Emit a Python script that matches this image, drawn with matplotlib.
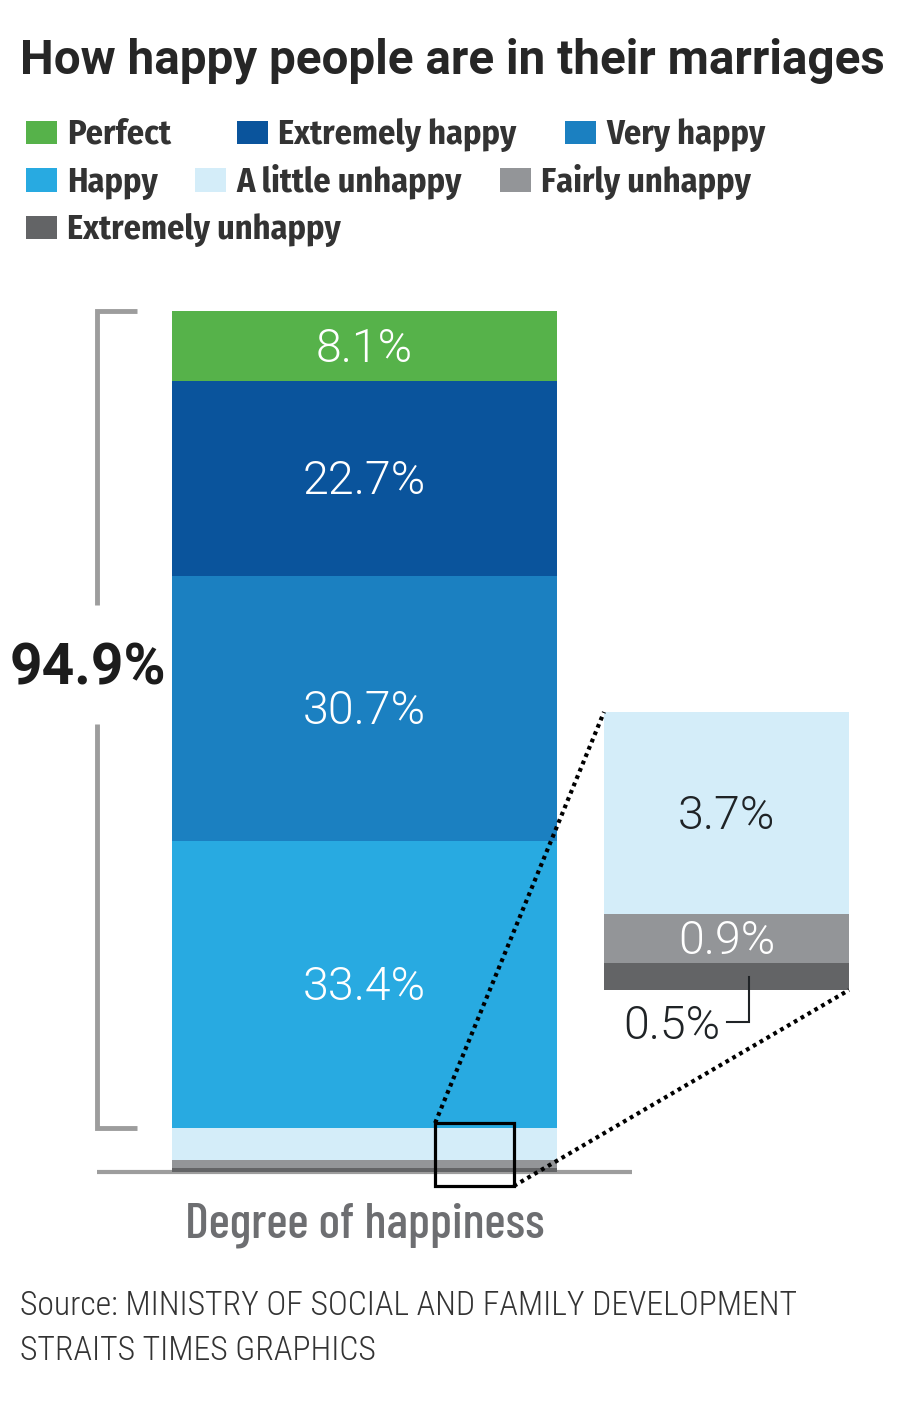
import matplotlib
matplotlib.use("Agg")
import matplotlib.pyplot as plt
from matplotlib.patches import Rectangle, ConnectionPatch

# ---------------- data ----------------
categories = ["Perfect", "Extremely happy", "Very happy", "Happy",
              "A little unhappy", "Fairly unhappy", "Extremely unhappy"]
values = [8.1, 22.7, 30.7, 33.4, 3.7, 0.9, 0.5]
colors = ["#56b24a", "#0a549c", "#1b80c1", "#28aae1", "#d4edf9", "#939598", "#636466"]
happy_total_label = "94.9%"
xlabel = "Degree of happiness"
title = "How happy people are in their marriages"
source_lines = ["Source: MINISTRY OF SOCIAL AND FAMILY DEVELOPMENT", "STRAITS TIMES GRAPHICS"]

W, H = 920, 1402
fig = plt.figure(figsize=(W / 100, H / 100), dpi=100)


def fx(x):
    return x / W


def fy(y):
    return 1 - y / H


# ---------------- title ----------------
fig.text(fx(20), fy(74), title, family="Roboto", weight="bold", fontsize=34.3,
         color="#262626", va="baseline", ha="left")

# ---------------- legend ----------------
legend_pos = [(26, 0), (237, 0), (565, 0), (26, 1), (195, 1), (500, 1), (26, 2)]
for (x0, row), cat, col in zip(legend_pos, categories, colors):
    top = 121 + row * 47.5
    fig.patches.append(Rectangle((fx(x0), fy(top + 23)), 31 / W, 23 / H,
                                 transform=fig.transFigure, facecolor=col,
                                 edgecolor="none"))
    fig.text(fx(x0 + 41), fy(top + 23), cat, family="Fira Sans Condensed",
             weight="bold", fontsize=24.6, color="#333333", va="baseline", ha="left")

# ---------------- main stacked bar ----------------
ax = fig.add_axes([fx(97), fy(1172), 535 / W, 861 / H])
ax.set_xlim(0, 1)
ax.set_ylim(0, 100)
ax.axis("off")

bottoms = []
b = 0.0
for v in reversed(values):
    bottoms.append(b)
    b += v
bottoms = list(reversed(bottoms))

ax.bar([0.5] * len(values), values, bottom=bottoms, width=385 / 535,
       color=colors, edgecolor="none", zorder=2)

# ground line
ax.plot([0, 1], [0, 0], color="#9d9d9d", lw=3, solid_capstyle="butt",
        zorder=1, clip_on=False)

# labels in the big segments
for v, bt in zip(values[:4], bottoms[:4]):
    ax.text(0.5, bt + v / 2 - 1.85, f"{v:.1f}%", family="Roboto", weight=300,
            fontsize=33.5, color="white", ha="center", va="baseline", zorder=3)

# bracket for happy categories
happy_bottom = bottoms[3]
bk = "#9d9d9d"
ax.plot([0.075, 0, 0], [100, 100, 65.8], color=bk, lw=3.5, clip_on=False,
        solid_joinstyle="miter", solid_capstyle="butt")
ax.plot([0, 0, 0.075], [52.0, happy_bottom, happy_bottom], color=bk, lw=3.5,
        clip_on=False, solid_joinstyle="miter", solid_capstyle="butt")
ax.text(-0.017, 56.6, happy_total_label, family="Roboto", weight="bold",
        fontsize=41, color="#1c1c1c", ha="center", va="baseline")

# zoom box
box = Rectangle((0.632, -1.63), 0.147, 7.32, facecolor="none", edgecolor="black",
                lw=2.3, zorder=5, clip_on=False)
ax.add_patch(box)

ax.text(0.5, -7.55, xlabel, family="Barlow Condensed", weight=500, fontsize=36.4,
        color="#6d6e71", ha="center", va="baseline")

# ---------------- inset (small categories) ----------------
small_vals = values[4:]
small_cols = colors[4:]
small_bottoms = bottoms[4:]
axi = fig.add_axes([fx(604), fy(990), 245 / W, 278 / H])
axi.set_xlim(0, 1)
axi.set_ylim(0, sum(small_vals))
axi.axis("off")
axi.bar([0.5] * 3, small_vals, bottom=small_bottoms, width=1.0, color=small_cols,
        edgecolor="none", zorder=2)
axi.text(0.5, small_bottoms[0] + small_vals[0] / 2 - 0.29, f"{small_vals[0]:.1f}%",
         family="Roboto", weight=300, fontsize=33.5, color="#1f2326",
         ha="center", va="baseline", zorder=3)
axi.text(0.5, small_bottoms[1] + small_vals[1] / 2 - 0.29, f"{small_vals[1]:.1f}%",
         family="Roboto", weight=300, fontsize=33.5, color="white",
         ha="center", va="baseline", zorder=3)
# leader for the smallest
axi.plot([0.592, 0.592, 0.502], [0.24, -0.59, -0.59], color="#1f2326", lw=1.5,
         clip_on=False, solid_joinstyle="miter")
axi.text(0.475, -0.9, f"{small_vals[2]:.1f}%", family="Roboto", weight=300,
         fontsize=33.5, color="#1f2326", ha="right", va="baseline")

# dotted connectors
for xyA, xyB in [((0.632, 5.69), (0.0, sum(small_vals))), ((0.779, -1.63), (1.0, 0.0))]:
    cp = ConnectionPatch(xyA=xyA, coordsA=ax.transData, xyB=xyB, coordsB=axi.transData,
                         color="black", lw=3.0, linestyle=(0, (0.9, 1.0)), zorder=6,
                         capstyle="butt")
    fig.add_artist(cp)

# ---------------- source ----------------
for i, line in enumerate(source_lines):
    fig.text(fx(20), fy(1315 + i * 45), line, family="Roboto Condensed", weight=300,
             fontsize=24.3, color="#333333", ha="left", va="baseline")

fig.savefig("out.png", dpi=100)
